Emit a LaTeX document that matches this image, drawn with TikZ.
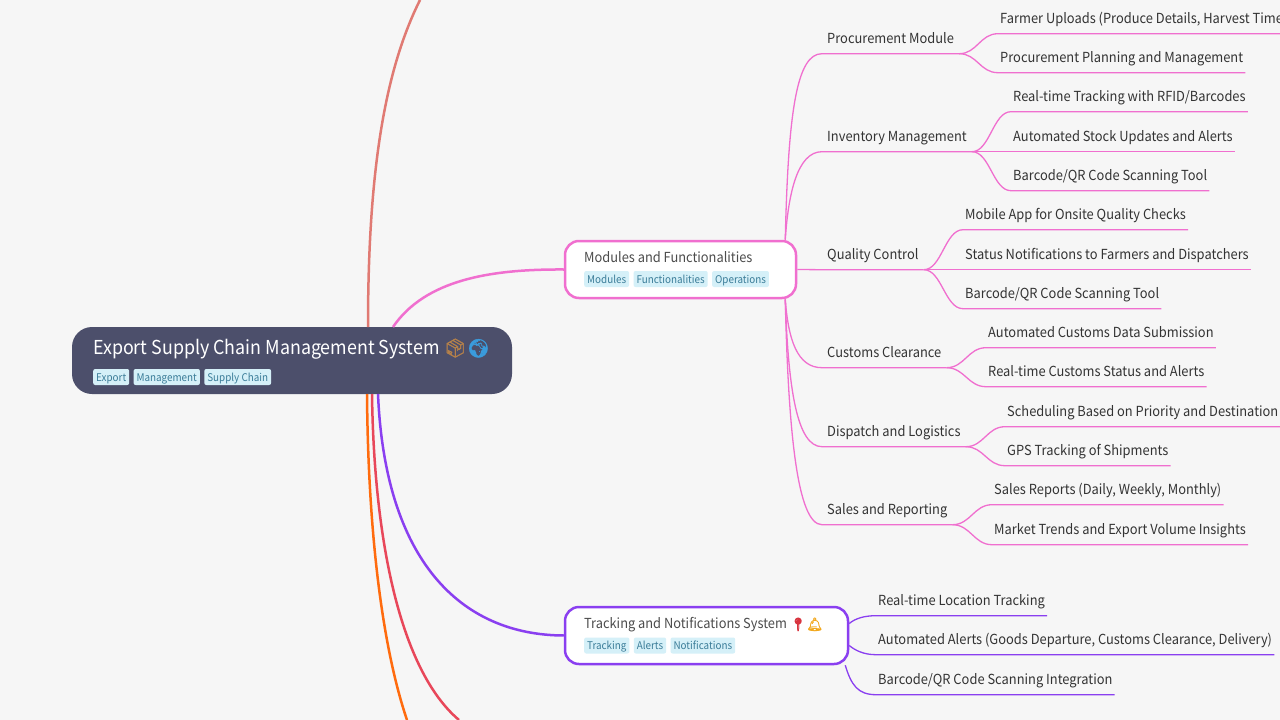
\documentclass[tikz,border=0pt]{standalone}
\usepackage{fontspec}
\setmainfont[FakeStretch=0.93]{Noto Sans CJK SC}
\newfontfamily\emojifont[Scale=0.95,FakeBold=1.5]{Noto Emoji}
\usetikzlibrary{positioning}

\definecolor{pagebg}{HTML}{F6F6F6}
\definecolor{rootfill}{HTML}{4C4F6B}
\definecolor{modpink}{HTML}{F06FCF}
\definecolor{trackpurple}{HTML}{8A3FF0}
\definecolor{topsalmon}{HTML}{E07A73}
\definecolor{lineorange}{HTML}{FF6B0E}
\definecolor{linered}{HTML}{E8475A}
\definecolor{tagfill}{HTML}{D5F0F8}
\definecolor{tagtext}{HTML}{3A7C98}
\definecolor{inktext}{HTML}{333333}
\definecolor{boxbrown}{HTML}{B5814A}
\definecolor{globeblue}{HTML}{3A9BDC}
\definecolor{pinred}{HTML}{D8343F}
\definecolor{bellamber}{HTML}{F2A81D}

\tikzset{
  roundbox/.style={draw, line width=2.5pt, fill=white, rounded corners=14pt, inner sep=0pt},
  title/.style={anchor=west, inner sep=0pt, font=\fontsize{13.8}{16}\selectfont, text=black!70},
  tag/.style={fill=tagfill, rounded corners=2pt, inner xsep=3pt, inner ysep=0pt, minimum height=16pt,
    text height=8.5pt, text depth=0pt, text=tagtext, font=\fontsize{10.6}{13}\selectfont},
  item/.style={anchor=west, inner ysep=0pt, minimum height=31pt, text height=11pt, text depth=0pt,
    text=inktext, font=\fontsize{13.85}{16}\selectfont},
  thin line/.style={line width=1.3pt},
  thick line/.style={line width=2.5pt},
}

\begin{document}
\begin{tikzpicture}[x=1pt, y=-1pt]

\fill [pagebg] (0,0) rectangle (1280,720);
\useasboundingbox (0,0) rectangle (1280,720);

% Centre
\node [fill=rootfill, rounded corners=20pt, minimum width=440pt, minimum height=67pt, inner sep=0pt] (root) at (292,360.5) {};
\node [anchor=west, inner sep=0pt, text=white, font=\fontsize{19.2}{24}\selectfont] (root-title) at (93,349)
  {Export Supply Chain Management System {\emojifont\textcolor{boxbrown}{📦}\textcolor{globeblue}{🌍}}};
\node [tag, anchor=west] (root-tag-1) at (93,377) {Export};
\node [tag, right=4pt of root-tag-1] (root-tag-2) {Management};
\node [tag, right=4pt of root-tag-2] (root-tag-3) {Supply Chain};

% Free ends outside the page
\coordinate (top-end) at (420,0);
\coordinate (orange-end) at (407,720);
\coordinate (red-end) at (459,720);

\draw [thick line, color=topsalmon] (368,327) .. controls (368,170) and (385,70) .. (top-end);
\draw [thick line, color=lineorange] (367,394) .. controls (368,520) and (380,640) .. (orange-end);
\draw [thick line, color=linered] (372,394) .. controls (374,540) and (400,670) .. (red-end);

% Two main topics
\node [roundbox, draw=modpink, minimum width=231pt, minimum height=57pt] (modules) at (680.5,269.5) {};
\node [title] (modules-title) at (584,257) {Modules and Functionalities};
\node [tag, anchor=west] (modules-tag-1) at (584,279) {Modules};
\node [tag, right=4pt of modules-tag-1] (modules-tag-2) {Functionalities};
\node [tag, right=4pt of modules-tag-2] (modules-tag-3) {Operations};

\node [roundbox, draw=trackpurple, minimum width=283pt, minimum height=57pt] (tracking) at (706.5,635.5) {};
\node [title] (tracking-title) at (584,625)
  {Tracking and Notifications System {\emojifont\textcolor{pinred}{📍}\textcolor{bellamber}{🔔}}};
\node [tag, anchor=west] (tracking-tag-1) at (584,645.5) {Tracking};
\node [tag, right=4pt of tracking-tag-1] (tracking-tag-2) {Alerts};
\node [tag, right=4pt of tracking-tag-2] (tracking-tag-3) {Notifications};

\draw [thick line, color=modpink] (393,327) .. controls (425,280) and (490,269) .. (modules.west);
\draw [thick line, color=trackpurple] (378,394) .. controls (385,560) and (460,635) .. (tracking.west);

% Second level
\foreach \n/\y/\t in {proc/38/{Procurement Module}, inv/136/{Inventory Management}, qual/254/{Quality Control},
    cust/352/{Customs Clearance}, disp/431/{Dispatch and Logistics}, sales/509/{Sales and Reporting}}
  \node [item, inner xsep=5pt] (\n) at (822,\y) {\t};

% Third level
\foreach \n/\x/\y/\t in {
    proc-1/1000/18/{Farmer Uploads (Produce Details, Harvest Time},
    proc-2/1000/57/{Procurement Planning and Management},
    inv-1/1013/96/{Real-time Tracking with RFID/Barcodes},
    inv-2/1013/136/{Automated Stock Updates and Alerts},
    inv-3/1013/175/{Barcode/QR Code Scanning Tool},
    qual-1/965/214/{Mobile App for Onsite Quality Checks},
    qual-2/965/254/{Status Notifications to Farmers and Dispatchers},
    qual-3/965/293/{Barcode/QR Code Scanning Tool},
    cust-1/988/332/{Automated Customs Data Submission},
    cust-2/988/371/{Real-time Customs Status and Alerts},
    disp-1/1007/411/{Scheduling Based on Priority and Destination},
    disp-2/1007/450/{GPS Tracking of Shipments},
    sales-1/994/489/{Sales Reports (Daily, Weekly, Monthly)},
    sales-2/994/529/{Market Trends and Export Volume Insights},
    track-1/878/600/{Real-time Location Tracking},
    track-2/878/639/{Automated Alerts (Goods Departure, Customs Clearance, Delivery)},
    track-3/878/679/{Barcode/QR Code Scanning Integration}}
  \node [item, inner xsep=2pt] (\n) at (\x-2,\y) {\t};

% Links to second level
\foreach \n/\h in {proc/-130, inv/-45}
  \draw [thin line, color=modpink] ([xshift=-12pt]modules.north east) .. controls +(3,\h) and +(-25,0) .. (\n.south west) -- (\n.south east);
\foreach \n/\h in {cust/40, disp/90, sales/130}
  \draw [thin line, color=modpink] ([xshift=-12pt]modules.south east) .. controls +(3,\h) and +(-25,0) .. (\n.south west) -- (\n.south east);
\draw [thin line, color=modpink] (modules.east) -- (qual.south west) -- (qual.south east);

% Links to third level
\foreach \i/\j in {proc/proc-1, proc/proc-2, inv/inv-1, inv/inv-2, inv/inv-3, qual/qual-1, qual/qual-2, qual/qual-3,
    cust/cust-1, cust/cust-2, disp/disp-1, disp/disp-2, sales/sales-1, sales/sales-2}
  \draw [thin line, color=modpink] (\i.south east) .. controls +(18,0) and +(-18,0) .. (\j.south west) -- (\j.south east);

\draw [thin line, color=trackpurple] ([yshift=12pt]tracking.east) .. controls +(6,-5) and +(-12,0) .. (track-1.south west) -- (track-1.south east);
\draw [thin line, color=trackpurple] ([yshift=-10pt]tracking.east) .. controls +(6,5) and +(-12,0) .. (track-2.south west) -- (track-2.south east);
\draw [thin line, color=trackpurple] ([xshift=-4pt]tracking.south east) .. controls +(6,20) and +(-18,0) .. (track-3.south west) -- (track-3.south east);

\end{tikzpicture}
\end{document}
